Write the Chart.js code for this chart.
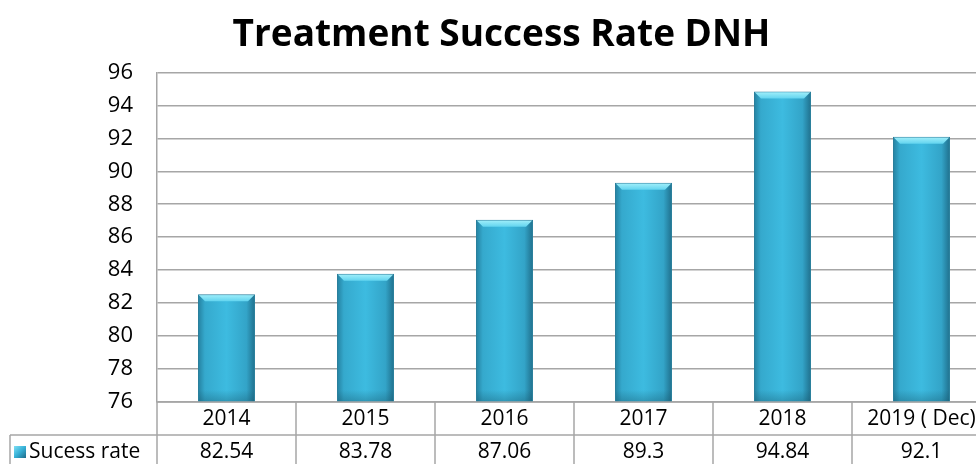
<!DOCTYPE html>
<html>
<head>
<meta charset="utf-8">
<script src="https://cdn.jsdelivr.net/npm/chart.js@4.4.1/dist/chart.umd.min.js"></script>
<style>
  html, body { margin: 0; padding: 0; background: #fff; overflow: hidden; }
  #wrap { width: 976px; height: 464px; overflow: hidden; position: relative; }
  #box { width: 1004px; height: 480px; position: absolute; left: 0; top: 0; }
</style>
</head>
<body>
<div id="wrap"><div id="box"><canvas id="chart"></canvas></div></div>
<script>
// Yearly treatment success rate
const categories = ['2014', '2015', '2016', '2017', '2018', '2019 ( Dec)'];
const successRate = [82.54, 83.78, 87.06, 89.3, 94.84, 92.1];
const valueLabels = ['82.54', '83.78', '87.06', '89.3', '94.84', '92.1'];
const seriesName = 'Sucess rate';
const yTicks = [76, 78, 80, 82, 84, 86, 88, 90, 92, 94, 96];

const FONT = "'Open Sans', 'Noto Sans', sans-serif";
const LINE = '#a6a6a6';
const BAR_PCT = 0.41;

function barGradient(ctx, x0, x1) {
  const g = ctx.createLinearGradient(x0, 0, x1, 0);
  g.addColorStop(0, '#24809f');
  g.addColorStop(0.12, '#35a9cd');
  g.addColorStop(0.5, '#3dbbe0');
  g.addColorStop(0.85, '#33a4c8');
  g.addColorStop(1, '#1f6f8c');
  return g;
}

// Horizontal shading computed per bar from the category scale
function barFill(context) {
  const chart = context.chart;
  const xs = chart.scales.x;
  if (!xs || !chart.chartArea) return '#3cb8dd';
  const catW = (chart.chartArea.right - chart.chartArea.left) / categories.length;
  const cx = xs.getPixelForValue(context.dataIndex);
  const half = catW * BAR_PCT / 2;
  return barGradient(chart.ctx, cx - half, cx + half);
}

// Bevelled top and darker foot on each bar
const barStyle = {
  id: 'barStyle',
  afterDatasetsDraw(chart) {
    const ctx = chart.ctx;
    const yBottom = chart.scales.y.getPixelForValue(76);
    chart.getDatasetMeta(0).data.forEach(bar => {
      const l = bar.x - bar.width / 2, r = bar.x + bar.width / 2, t = bar.y;
      const bev = 7;
      ctx.save();
      const gt = ctx.createLinearGradient(0, t, 0, t + bev);
      gt.addColorStop(0, '#a6f1fb');
      gt.addColorStop(1, '#62d4ef');
      ctx.fillStyle = gt;
      ctx.beginPath();
      ctx.moveTo(l + 1, t + 1);
      ctx.lineTo(r - 1, t + 1);
      ctx.lineTo(r - bev, t + bev);
      ctx.lineTo(l + bev, t + bev);
      ctx.closePath();
      ctx.fill();
      const gb = ctx.createLinearGradient(0, yBottom - 12, 0, yBottom);
      gb.addColorStop(0, 'rgba(20,80,100,0)');
      gb.addColorStop(1, 'rgba(20,80,100,0.35)');
      ctx.fillStyle = gb;
      ctx.fillRect(l + 1, yBottom - 12, r - l - 2, 12);
      ctx.restore();
    });
  }
};

// Data table under the plot: category row and value row
const dataTable = {
  id: 'dataTable',
  afterDraw(chart) {
    const ctx = chart.ctx;
    const xs = chart.scales.x;
    const area = chart.chartArea;
    const catW = (area.right - area.left) / categories.length;
    const y0 = area.bottom, y1 = y0 + 33, y2 = y1 + 33;
    const legendLeft = 10;
    ctx.save();
    ctx.strokeStyle = LINE;
    ctx.lineWidth = 1.5;
    ctx.beginPath();
    ctx.moveTo(area.left, y0); ctx.lineTo(chart.width, y0);
    ctx.moveTo(legendLeft, y1); ctx.lineTo(chart.width, y1);
    ctx.moveTo(legendLeft, y2); ctx.lineTo(chart.width, y2);
    ctx.moveTo(legendLeft, y1); ctx.lineTo(legendLeft, y2);
    for (let i = 0; i <= categories.length; i++) {
      const x = area.left + i * catW;
      ctx.moveTo(x, y0); ctx.lineTo(x, y2);
    }
    ctx.stroke();

    ctx.fillStyle = '#000';
    ctx.font = '21px ' + FONT;
    ctx.textAlign = 'center';
    ctx.textBaseline = 'middle';
    categories.forEach((c, i) => {
      const x = xs.getPixelForValue(i);
      ctx.fillText(c, x, (y0 + y1) / 2 + 1);
      ctx.fillText(valueLabels[i], x, (y1 + y2) / 2 + 1);
    });

    // series key
    const kx = 14, ky = y1 + 11, ks = 12;
    const kg = ctx.createLinearGradient(kx, ky, kx + ks, ky + ks);
    kg.addColorStop(0, '#7fe0f5');
    kg.addColorStop(0.5, '#36b0d6');
    kg.addColorStop(1, '#1d6a88');
    ctx.fillStyle = kg;
    ctx.fillRect(kx, ky, ks, ks);
    ctx.fillStyle = '#000';
    ctx.textAlign = 'left';
    ctx.fillText(seriesName, kx + ks + 3, (y1 + y2) / 2 + 1);
    ctx.restore();
  }
};

new Chart(document.getElementById('chart'), {
  type: 'bar',
  data: {
    labels: categories,
    datasets: [{
      label: seriesName,
      data: successRate,
      backgroundColor: barFill,
      borderColor: '#2a7f9c',
      borderWidth: 1,
      barPercentage: BAR_PCT,
      categoryPercentage: 1
    }]
  },
  options: {
    responsive: true,
    maintainAspectRatio: false,
    animation: false,
    layout: { padding: { left: 12, right: 13, top: 0, bottom: 78 } },
    plugins: {
      legend: { display: false },
      tooltip: { enabled: false },
      title: {
        display: true,
        text: 'Treatment Success Rate DNH',
        color: '#000',
        font: { family: FONT, size: 37, weight: 'bold' },
        padding: { top: 13, bottom: 15 }
      }
    },
    scales: {
      x: { display: false },
      y: {
        min: 76,
        max: 96,
        afterBuildTicks(scale) { scale.ticks = yTicks.map(v => ({ value: v })); },
        afterFit(scale) { scale.width = 145; },
        ticks: {
          color: '#000',
          padding: 24,
          font: { family: FONT, size: 22 }
        },
        grid: { color: LINE, lineWidth: 1.5, drawTicks: false },
        border: { color: LINE, width: 1.5 }
      }
    }
  },
  plugins: [barStyle, dataTable]
});
</script>
</body>
</html>
